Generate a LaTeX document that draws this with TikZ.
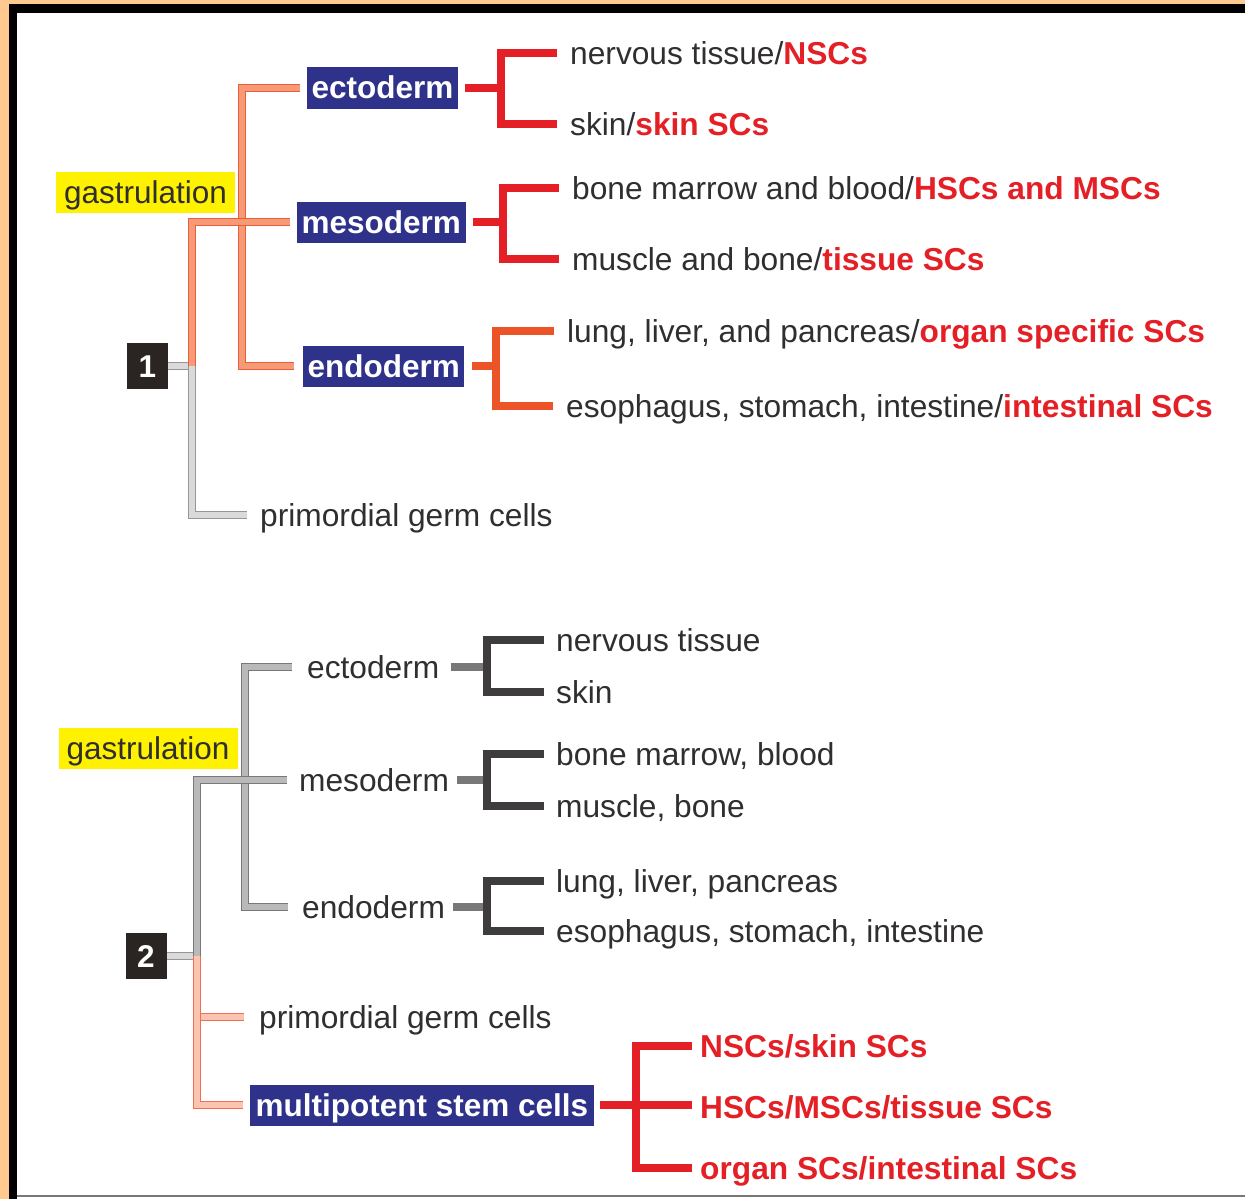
\documentclass[tikz,border=0pt]{standalone}
\usepackage{fontspec}
\setmainfont{Liberation Sans}
\definecolor{peach}{RGB}{255,201,143}
\definecolor{navy}{RGB}{46,50,138}
\definecolor{ink}{RGB}{48,46,46}
\definecolor{scred}{RGB}{228,32,38}
\definecolor{endored}{RGB}{236,84,40}
\definecolor{hilite}{RGB}{255,242,0}
\definecolor{numbox}{RGB}{42,37,35}
\definecolor{orangeline}{RGB}{234,92,58}
\definecolor{orangefill}{RGB}{246,155,118}
\definecolor{peachline}{RGB}{238,110,88}
\definecolor{peachfill}{RGB}{250,196,176}
\definecolor{grayline}{RGB}{150,150,150}
\definecolor{grayfill}{RGB}{218,218,218}
\definecolor{midline}{RGB}{120,120,120}
\definecolor{midfill}{RGB}{185,185,185}
\definecolor{darkbr}{RGB}{62,60,60}
\newcommand{\scname}[1]{{\color{scred}\bfseries #1}}

\begin{document}
\begin{tikzpicture}[x=1pt,y=-1pt,
	txt/.style={anchor=west,inner sep=0,text height=25pt,text depth=3pt,text=ink,font=\fontsize{31.7}{36}\selectfont},
	sctxt/.style={txt,text=scred,font=\fontsize{31.7}{36}\selectfont\bfseries},
	layer/.style={anchor=west,fill=navy,text=white,inner xsep=4.5,inner ysep=0,minimum height=41,text height=25pt,text depth=3pt,font=\fontsize{31.5}{36}\selectfont\bfseries},
	gastbox/.style={fill=hilite,text=ink,minimum width=179,minimum height=41,inner sep=0,text height=25pt,text depth=3pt,font=\fontsize{31.5}{36}\selectfont},
	numbered/.style={fill=numbox,text=white,minimum width=41,minimum height=46,inner sep=0,text height=22.7pt,text depth=0pt,font=\fontsize{31.5}{36}\selectfont\bfseries},
	orangetree/.style={draw=orangeline,double=orangefill,line width=1.3,double distance=6},
	peachtree/.style={draw=peachline,double=peachfill,line width=1.3,double distance=6},
	graytree/.style={draw=grayline,double=grayfill,line width=1.3,double distance=6},
	midtree/.style={draw=midline,double=midfill,line width=1.3,double distance=6},
	redbr/.style={draw=scred,line width=8.5},
	orbr/.style={draw=endored,line width=8.5},
	darkstub/.style={draw=midline,line width=8.5},
	darkbr/.style={draw=darkbr,line width=8.5}]
	\useasboundingbox (0,0) rectangle (1245,1199);
	% frame
	\fill [white] (0,0) rectangle (1245,1199);
	\fill [peach] (0,0) rectangle (1245,4);
	\fill [peach] (0,0) rectangle (9,1199);
	\fill [black] (9,4) rectangle (1245,13);
	\fill [black] (9,4) rectangle (17,1199);
	\draw [midline, line width=2.5] (17,1196) -- (1245,1196);

	% -------- part 1 --------
	\node [gastbox] (gastA) at (145.5,192.5) {gastrulation};
	\node [numbered] (numA) at (147.5,366) {1};
	\node [layer] (ectoA) at (307,88) {ectoderm};
	\node [layer] (mesoA) at (297,222) {mesoderm};
	\node [layer] (endoA) at (303,366) {endoderm};
	\node [txt] (germA) at (260,515) {primordial germ cells};

	\node [txt] (nervA) at (570,53) {nervous tissue/\scname{NSCs}};
	\node [txt] (skinA) at (570,124) {skin/\scname{skin SCs}};
	\node [txt] (boneA) at (572,188) {bone marrow and blood/\scname{HSCs and MSCs}};
	\node [txt] (muscA) at (572,259) {muscle and bone/\scname{tissue SCs}};
	\node [txt] (lungA) at (567,331) {lung, liver, and pancreas/\scname{organ specific SCs}};
	\node [txt] (esoA) at (566,406) {esophagus, stomach, intestine/\scname{intestinal SCs}};

	\coordinate (jA) at (192,366);
	\coordinate (trunkA) at (242,366);
	\draw [graytree] (numA.east) -- (jA);
	\draw [graytree, shorten >=13] (jA) |- (germA.west);
	\draw [orangetree, shorten <=7, shorten >=9] (ectoA.west) -| (trunkA |- endoA.west) -- (endoA.west);
	\draw [orangetree, shorten >=7] (jA) |- (mesoA.west);

	\coordinate (brA1) at (501,90);
	\coordinate (brA2) at (503,223);
	\coordinate (brA3) at (496,369);
	\draw [redbr, shorten <=7] (ectoA.east) -- (ectoA.east -| brA1);
	\draw [redbr, shorten <=13, shorten >=13] (nervA.west) -| (brA1 |- skinA.west) -- (skinA.west);
	\draw [redbr, shorten <=7] (mesoA.east) -- (mesoA.east -| brA2);
	\draw [redbr, shorten <=13, shorten >=13] (boneA.west) -| (brA2 |- muscA.west) -- (muscA.west);
	\draw [orbr, shorten <=7] (endoA.east) -- (endoA.east -| brA3);
	\draw [orbr, shorten <=13, shorten >=13] (lungA.west) -| (brA3 |- esoA.west) -- (esoA.west);

	% -------- part 2 --------
	\node [gastbox] (gastB) at (148,748) {gastrulation};
	\node [numbered] (numB) at (146,956) {2};
	\node [txt] (ectoB) at (307,667) {ectoderm};
	\node [txt] (mesoB) at (299,780) {mesoderm};
	\node [txt] (endoB) at (302,907) {endoderm};
	\node [txt] (germB) at (259,1017) {primordial germ cells};
	\node [layer, inner xsep=5.5] (multi) at (250,1105) {multipotent stem cells};

	\node [txt] (nervB) at (556,640) {nervous tissue};
	\node [txt] (skinB) at (556,692) {skin};
	\node [txt] (boneB) at (556,754) {bone marrow, blood};
	\node [txt] (muscB) at (556,806) {muscle, bone};
	\node [txt] (lungB) at (556,881) {lung, liver, pancreas};
	\node [txt] (esoB) at (556,931) {esophagus, stomach, intestine};

	\node [sctxt] (nscB) at (700,1046) {NSCs/skin SCs};
	\node [sctxt] (hscB) at (700,1107) {HSCs/MSCs/tissue SCs};
	\node [sctxt] (orgB) at (700,1168) {organ SCs/intestinal SCs};

	\coordinate (jB) at (197,956);
	\coordinate (trunkB) at (245,906);
	\draw [graytree] (numB.east) -- (jB);
	\draw [peachtree, shorten >=15] (jB) |- (germB.west);
	\draw [peachtree, shorten >=7] (jB) |- (multi.west);
	\draw [midtree, shorten <=15, shorten >=14] (ectoB.west) -| (trunkB |- endoB.west) -- (endoB.west);
	\draw [midtree, shorten >=12] (jB) |- (mesoB.west);

	\coordinate (brB1) at (487,667);
	\coordinate (brB2) at (487,780);
	\coordinate (brB3) at (487,906);
	\draw [darkstub, shorten <=11] (ectoB.east) -- (ectoB.east -| brB1);
	\draw [darkbr, shorten <=12, shorten >=12] (nervB.west) -| (brB1 |- skinB.west) -- (skinB.west);
	\draw [darkstub, shorten <=8] (mesoB.east) -- (mesoB.east -| brB2);
	\draw [darkbr, shorten <=12, shorten >=12] (boneB.west) -| (brB2 |- muscB.west) -- (muscB.west);
	\draw [darkstub, shorten <=8] (endoB.east) -- (endoB.east -| brB3);
	\draw [darkbr, shorten <=12, shorten >=12] (lungB.west) -| (brB3 |- esoB.west) -- (esoB.west);

	\coordinate (brM) at (636,1107);
	\draw [redbr, shorten <=6, shorten >=8] (multi.east) -- (multi.east -| hscB.west);
	\draw [redbr, shorten <=8, shorten >=8] (nscB.west) -| (brM |- orgB.west) -- (orgB.west);
\end{tikzpicture}
\end{document}
